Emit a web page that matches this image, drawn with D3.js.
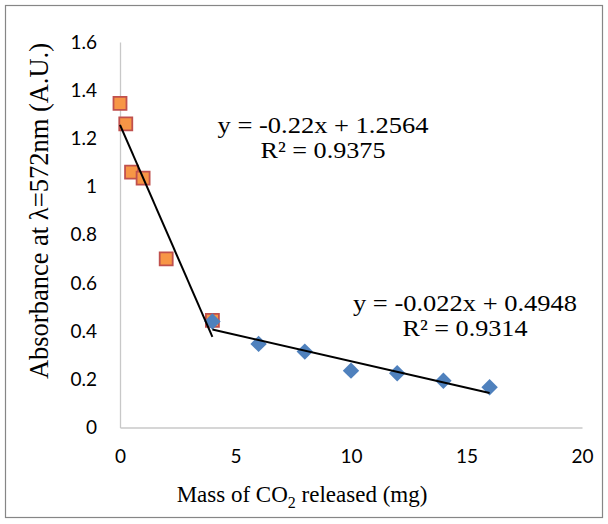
<!DOCTYPE html>
<html>
<head>
<meta charset="utf-8">
<style>
 body {margin: 0; background: #fff;}
 svg {display: block;}
</style>
<title>Absorbance vs CO2 mass</title>
</head>
<body>
<div id="contenedor"></div>
<script src="https://d3js.org/d3.v7.min.js"></script>
<script>
// data
var massSquare = [0, 0.25, 0.5, 1, 2, 4];
var absSquare  = [1.345, 1.26, 1.06, 1.035, 0.70, 0.445];
var massDiamond = [4, 6, 8, 10, 12, 14, 16];
var absDiamond  = [0.44, 0.347, 0.315, 0.236, 0.225, 0.194, 0.167];

var trendSlope = [-0.22, -0.022];
var trendIntercept = [1.2564, 0.4948];
var trendFrom = [0, 4];
var trendTo = [4, 16];
var trendEq = ["y = -0.22x + 1.2564", "y = -0.022x + 0.4948"];
var trendR2 = ["R² = 0.9375", "R² = 0.9314"];

var xTicks = [0, 5, 10, 15, 20];
var yTicks = [0, 0.2, 0.4, 0.6, 0.8, 1, 1.2, 1.4, 1.6];

var width = 608, height = 524;

var svg = d3.select("#contenedor").append("svg")
            .attr("width", width).attr("height", height);

svg.append("rect").attr("x", 5.5).attr("y", 5.5)
   .attr("width", 597).attr("height", 512)
   .attr("fill", "#fff").attr("stroke", "#868686").attr("stroke-width", 1.2);

var x = d3.scaleLinear().domain([0, 20]).range([120, 582]);
var y = d3.scaleLinear().domain([0, 1.6]).range([427.5, 42]);

// axes, no tick marks, light grey lines
var xAxis = svg.append("g").attr("transform", "translate(0," + y(0) + ")")
   .call(d3.axisBottom(x).tickValues(xTicks).tickSize(0).tickPadding(22).tickFormat(d3.format("d")));
var yAxis = svg.append("g").attr("transform", "translate(" + x(0) + ",0)")
   .call(d3.axisLeft(y).tickValues(yTicks).tickSize(0).tickPadding(23).tickFormat(function(d){ return d3.format("~g")(d); }));

[xAxis, yAxis].forEach(function(a) {
  a.select(".domain").attr("stroke", "#c8c8c8").attr("stroke-width", 1.3);
  a.selectAll("text").attr("font-family", "Lato, 'Open Sans', sans-serif")
   .attr("font-size", 19).attr("fill", "#000");
});

// markers
svg.append("g").selectAll("path").data(massSquare).enter().append("path")
   .attr("d", d3.symbol(d3.symbolSquare, 169))
   .attr("transform", function(d, i){ return "translate(" + x(d) + "," + y(absSquare[i]) + ")"; })
   .attr("fill", "#f79646").attr("stroke", "#c0504d").attr("stroke-width", 1.8);

svg.append("g").selectAll("path").data(massDiamond).enter().append("path")
   .attr("d", d3.symbol(d3.symbolSquare, 135))
   .attr("transform", function(d, i){ return "translate(" + x(d) + "," + y(absDiamond[i]) + ") rotate(45)"; })
   .attr("fill", "#4f81bd");

// linear trendlines
trendSlope.forEach(function(m, i) {
  var b = trendIntercept[i];
  svg.append("line")
     .attr("x1", x(trendFrom[i])).attr("y1", y(m * trendFrom[i] + b))
     .attr("x2", x(trendTo[i])).attr("y2", y(m * trendTo[i] + b))
     .attr("stroke", "#000").attr("stroke-width", 2);
});

// trendline labels: text in the picture is a little wider than tall, so stretch it
var labelX = [323, 465];
var labelY = [133, 311];
var eqWidth = [211, 224];
var r2Width = [125, 125];
trendEq.forEach(function(t, i) {
  var g = svg.append("text").attr("text-anchor", "middle")
     .attr("font-family", "'Liberation Serif', 'Times New Roman', serif")
     .attr("font-size", 22.5).attr("fill", "#000");
  g.append("tspan").attr("x", labelX[i]).attr("y", labelY[i])
   .attr("textLength", eqWidth[i]).attr("lengthAdjust", "spacingAndGlyphs").text(t);
  g.append("tspan").attr("x", labelX[i]).attr("y", labelY[i] + 25)
   .attr("textLength", r2Width[i]).attr("lengthAdjust", "spacingAndGlyphs").text(trendR2[i]);
});

// axis titles
var xt = svg.append("text").attr("x", 302).attr("y", 502).attr("text-anchor", "middle")
   .attr("font-family", "'Liberation Serif', 'Times New Roman', serif")
   .attr("font-size", 23).attr("fill", "#000");
xt.append("tspan").text("Mass of CO");
xt.append("tspan").attr("dy", 6).attr("font-size", 16).text("2");
xt.append("tspan").attr("dy", -6).text(" released (mg)");

svg.append("text").attr("transform", "translate(48,211) rotate(-90)")
   .attr("text-anchor", "middle")
   .attr("font-family", "'Liberation Serif', 'Times New Roman', serif")
   .attr("font-size", 26.5).attr("fill", "#000")
   .text("Absorbance at λ=572nm (A.U.)");
</script>
</body>
</html>
